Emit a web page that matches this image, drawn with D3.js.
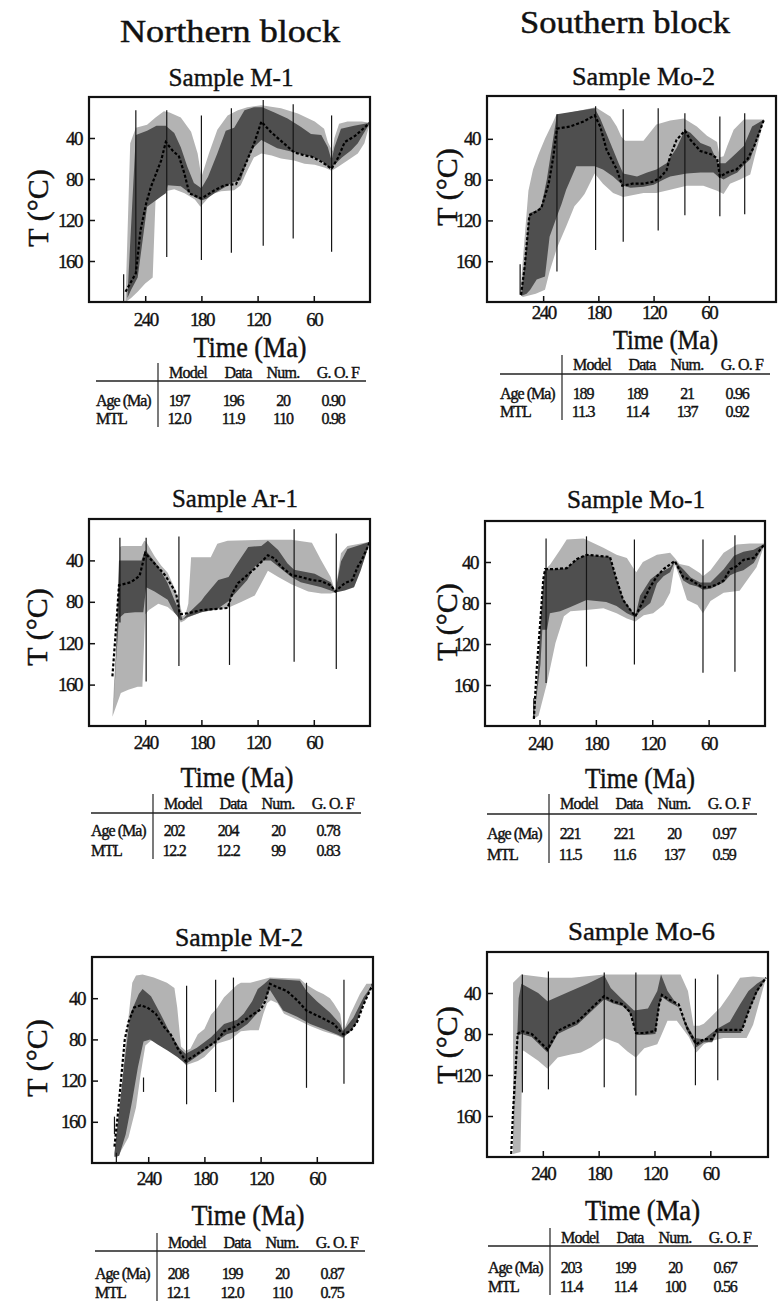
<!DOCTYPE html>
<html><head><meta charset="utf-8">
<script src="https://cdn.jsdelivr.net/npm/d3@7"></script>
<style>
body{margin:0;background:#fff}
svg{display:block}
text{font-family:"Liberation Serif","Times New Roman",serif;fill:#111}
</style>
</head><body>
<svg id="c" width="780" height="1301"></svg>
<script>
// ---------- DATA: [time Ma, temperature °C] ----------
const xTickValues=[240,180,120,60];
const yTickValues=[40,80,120,160];
const tableHeaders=["Model","Data","Num.","G. O. F"];
const rowLabels=["Age (Ma)","MTL"];
const blockTitles=["Northern block","Southern block"];
const sampleNames=["Sample M-1","Sample Mo-2","Sample Ar-1","Sample Mo-1","Sample M-2","Sample Mo-6"];

// Sample M-1
const m1LightUpper=[[261,198],[256,45],[250,30],[238,27],[229,20],[220,14],[214,15],[202,20],[191,34],[184,55],[180,78],[172,55],[163,32],[152,18],[141,13],[131,10],[116,8],[95,11],[77,16],[59,24],[49,31],[45,44],[40,53],[38,40],[33,26],[24,24],[9,24],[0,25]];
const m1LightLower=[[261,200],[255,196],[248,190],[240,182],[232,176],[229,101],[218,92],[209,90],[198,94],[187,100],[181,107],[176,102],[170,95],[159,92],[145,91],[138,86],[131,72],[124,59],[116,55],[105,57],[95,60],[81,62],[70,65],[59,66],[48,69],[41,72],[34,68],[24,62],[13,55],[6,45],[0,25]];
const m1DarkUpper=[[259,195],[250,37],[238,33],[228,28],[218,28],[209,35],[202,49],[195,68],[188,84],[180,89],[173,78],[163,55],[154,33],[145,30],[134,13],[124,10],[115,10],[102,15],[88,21],[74,29],[63,36],[52,37],[45,49],[41,62],[38,49],[31,31],[17,28],[0,25]];
const m1DarkLower=[[259,196],[255,188],[248,176],[238,107],[223,97],[218,94],[216,86],[202,87],[195,92],[188,97],[180,101],[174,99],[166,94],[155,88],[148,84],[138,81],[131,62],[124,49],[116,42],[99,50],[81,54],[63,58],[52,62],[43,70],[38,66],[30,59],[20,52],[13,45],[0,25]];
const m1Best=[[261,190],[250,172],[245,130],[239,104],[234,88],[223,62],[218,44],[211,52],[204,58],[198,75],[193,94],[180,99],[166,91],[155,86],[143,85],[134,68],[124,46],[116,24],[106,34],[91,46],[81,54],[70,57],[63,58],[52,63],[41,70],[34,59],[27,44],[16,38],[0,25]];
const m1Constraints=[[263,173,200],[250,13,172],[217,13,156],[180,18,159],[148,11,152],[114,3,145],[82,7,138],[41,18,151]];
const m1AgeRow=["197","196","20","0.90"];
const m1MtlRow=["12.0","11.9","110","0.98"];

// Sample Mo-2
const mo2LightUpper=[[265,192],[256,91],[251,70],[245,55],[238,40],[230,25],[226,17],[183,9],[167,18],[160,28],[155,38],[151,42],[131,42],[117,26],[102,22],[87,20],[73,28],[62,37],[51,43],[48,58],[44,57],[40,47],[33,31],[22,21],[0,21]];
const mo2LightLower=[[265,193],[262,195],[248,192],[238,188],[233,170],[225,147],[215,126],[206,106],[200,100],[195,94],[190,85],[184,74],[175,84],[164,93],[153,97],[142,95],[131,93],[117,93],[102,90],[84,86],[66,86],[51,91],[44,94],[37,84],[26,80],[15,75],[0,21]];
const mo2DarkUpper=[[264,194],[260,160],[255,113],[247,110],[242,106],[236,80],[230,45],[225,16],[184,10],[178,20],[167,44],[158,64],[153,74],[138,77],[127,73],[117,70],[106,64],[95,49],[86,31],[80,34],[69,44],[58,48],[50,64],[42,64],[30,54],[22,47],[13,28],[0,21]];
const mo2DarkLower=[[264,194],[258,192],[254,188],[247,178],[238,175],[233,136],[225,116],[220,104],[215,90],[204,67],[184,67],[175,70],[164,77],[153,86],[145,88],[131,87],[120,85],[109,80],[102,77],[84,74],[69,73],[55,73],[50,77],[44,80],[36,76],[29,73],[22,66],[15,60],[0,21]];
const mo2Best=[[264,193],[260,165],[255,115],[247,111],[242,108],[234,84],[229,58],[225,30],[211,28],[196,23],[184,17],[178,28],[171,51],[160,70],[154,86],[143,84],[131,84],[120,82],[113,78],[106,71],[102,57],[95,41],[86,32],[80,41],[69,52],[58,55],[51,59],[48,77],[40,73],[30,70],[18,60],[11,48],[0,21]];
const mo2Constraints=[[265,163,193],[225,16,170],[183,8,149],[153,11,141],[115,10,130],[86,15,115],[48,18,116],[21,15,114]];
const mo2AgeRow=["189","189","21","0.96"];
const mo2MtlRow=["11.3","11.4","137","0.92"];

// Sample Ar-1
const ar1LightUpper=[[275,191],[270,100],[267,27],[265,26],[251,26],[244,26],[241,21],[239,22],[230,36],[223,45],[216,52],[209,66],[203,82],[200,94],[197,92],[194,82],[191,37],[170,37],[163,24],[152,21],[109,20],[84,20],[62,23],[52,40],[42,56],[37,70],[31,33],[24,26],[0,22]];
const ar1LightLower=[[275,191],[266,168],[258,165],[248,162],[243,162],[240,92],[236,88],[226,82],[216,85],[206,93],[202,100],[198,98],[194,95],[180,90],[166,88],[152,86],[137,80],[123,74],[116,62],[109,50],[98,56],[84,63],[66,70],[52,72],[42,72],[37,71],[27,68],[17,64],[10,48],[0,22]];
const ar1DarkUpper=[[274,185],[271,130],[268,40],[258,40],[244,40],[240,30],[237,33],[226,46],[216,62],[209,78],[203,90],[200,97],[194,91],[180,79],[177,75],[162,59],[151,56],[144,46],[130,27],[116,26],[109,21],[98,30],[88,43],[81,49],[59,53],[42,61],[37,70],[31,41],[24,29],[0,22]];
const ar1DarkLower=[[274,185],[271,135],[268,96],[262,91],[251,90],[242,90],[239,66],[230,70],[216,78],[209,90],[202,98],[195,95],[180,90],[163,87],[152,80],[145,73],[138,66],[131,59],[123,46],[113,40],[106,40],[98,46],[84,56],[74,61],[52,66],[42,69],[37,71],[27,69],[17,66],[10,50],[0,22]];
const ar1Best=[[275,152],[271,104],[268,64],[255,61],[246,55],[240,33],[230,43],[219,54],[212,64],[207,72],[203,92],[194,91],[180,88],[166,87],[152,86],[147,72],[141,62],[132,55],[123,48],[109,35],[102,38],[95,46],[84,54],[74,56],[62,59],[52,60],[42,64],[37,70],[27,62],[19,59],[13,46],[9,40],[0,22]];
const ar1Constraints=[[267,18,100],[239,18,157],[204,17,142],[150,78,141],[81,10,138],[36,14,145]];
const ar1AgeRow=["202","204","20","0.78"];
const ar1MtlRow=["12.2","12.2","99","0.83"];

// Sample Mo-1
const mo1LightUpper=[[246,193],[241,150],[237,90],[235,48],[229,43],[218,28],[211,18],[193,17],[172,26],[158,33],[147,36],[140,46],[137,50],[130,40],[115,33],[101,31],[96,36],[91,42],[81,44],[69,51],[66,54],[58,48],[44,31],[30,23],[16,22],[0,22]];
const mo1LightLower=[[246,193],[241,190],[232,158],[223,119],[214,93],[207,88],[193,87],[172,85],[158,90],[147,95],[138,98],[129,92],[119,90],[108,82],[101,70],[96,42],[90,57],[83,77],[72,82],[66,90],[58,78],[44,70],[27,68],[16,54],[9,45],[0,22]];
const mo1DarkUpper=[[246,193],[242,150],[239,99],[236,60],[234,47],[225,47],[211,46],[200,37],[190,33],[165,35],[158,57],[151,76],[143,86],[138,93],[133,73],[122,57],[115,52],[101,45],[96,39],[87,47],[79,55],[69,60],[58,60],[44,47],[33,34],[23,30],[12,28],[0,22]];
const mo1DarkLower=[[246,193],[243,170],[239,140],[237,106],[232,106],[229,90],[218,88],[207,84],[190,77],[169,79],[158,83],[147,90],[138,94],[133,88],[122,80],[115,61],[108,54],[101,50],[96,40],[87,58],[80,62],[72,64],[66,67],[58,66],[51,63],[44,60],[37,53],[30,50],[23,48],[12,41],[0,22]];
const mo1Best=[[246,193],[243,145],[239,96],[236,57],[234,47],[225,47],[211,46],[200,37],[190,33],[165,35],[158,57],[151,77],[144,86],[138,93],[129,77],[122,64],[115,54],[108,47],[96,39],[87,55],[80,57],[66,65],[58,64],[51,62],[44,58],[37,47],[30,44],[23,38],[12,36],[0,22]];
const mo1Constraints=[[246,173,193],[233,17,158],[190,15,142],[139,18,140],[66,18,148],[32,14,147]];
const mo1AgeRow=["221","221","20","0.97"];
const mo1MtlRow=["11.5","11.6","137","0.59"];

// Sample M-2
const m2LightUpper=[[276,192],[270,150],[265,90],[260,50],[257,25],[253,18],[246,17],[234,20],[220,25],[212,30],[209,49],[205,87],[200,91],[195,89],[187,75],[180,70],[173,56],[166,49],[159,39],[152,33],[145,27],[141,25],[131,25],[127,24],[110,20],[78,21],[71,27],[60,33],[53,36],[46,40],[42,45],[35,55],[32,73],[24,55],[14,36],[7,26],[0,26]];
const m2LightLower=[[276,194],[273,195],[261,175],[253,146],[248,113],[243,86],[237,81],[230,83],[219,86],[209,93],[200,105],[187,101],[180,97],[166,84],[152,80],[141,72],[131,71],[122,71],[117,55],[113,45],[109,42],[102,45],[95,55],[81,61],[67,67],[53,72],[39,76],[32,79],[21,69],[10,46],[0,26]];
const m2DarkUpper=[[276,190],[266,107],[259,55],[250,36],[246,31],[237,38],[227,55],[216,75],[206,89],[200,94],[188,88],[173,78],[159,65],[145,61],[138,55],[129,43],[123,31],[116,26],[110,21],[78,23],[71,33],[60,43],[46,54],[35,65],[32,72],[21,59],[10,39],[0,26]];
const m2DarkLower=[[276,194],[271,193],[264,172],[257,139],[251,107],[245,82],[238,80],[230,85],[219,91],[209,97],[200,104],[195,101],[181,92],[166,81],[156,75],[145,72],[134,65],[124,55],[116,42],[110,32],[103,42],[96,52],[81,58],[67,65],[53,70],[39,75],[32,78],[24,72],[17,63],[10,45],[0,26]];
const m2Best=[[276,184],[273,158],[265,80],[261,63],[255,49],[248,47],[241,49],[232,55],[223,68],[216,75],[209,88],[200,101],[191,96],[181,90],[166,81],[159,72],[148,68],[138,62],[127,55],[120,51],[115,43],[110,26],[103,29],[92,33],[81,42],[71,52],[57,58],[42,65],[32,75],[24,72],[17,63],[10,46],[0,26]];
const m2Constraints=[[276,155,172],[274,190,200],[245,117,131],[199,28,143],[168,22,131],[149,20,141],[71,25,127],[31,22,123]];
const m2AgeRow=["208","199","20","0.87"];
const m2MtlRow=["12.1","12.0","110","0.75"];

// Sample Mo-6
const mo6LightUpper=[[272,194],[272,30],[263,22],[235,25],[209,25],[174,22],[163,22],[142,22],[114,22],[92,22],[84,38],[78,72],[72,72],[67,70],[60,64],[49,54],[39,41],[28,25],[14,24],[0,25]];
const mo6LightLower=[[272,197],[264,195],[262,100],[261,96],[245,106],[235,114],[224,103],[210,100],[199,98],[188,93],[174,84],[159,89],[149,97],[140,103],[131,94],[117,90],[113,82],[106,67],[96,67],[83,83],[75,98],[67,90],[60,87],[46,84],[31,84],[21,84],[14,71],[0,25]];
const mo6DarkUpper=[[272,195],[266,45],[263,31],[245,40],[235,48],[210,38],[192,31],[174,23],[167,35],[156,45],[142,57],[127,55],[117,38],[113,22],[106,38],[96,51],[85,71],[77,84],[67,85],[53,75],[39,68],[28,51],[19,38],[10,31],[0,25]];
const mo6DarkLower=[[272,196],[267,82],[263,80],[252,83],[235,98],[224,80],[213,75],[203,71],[188,58],[174,46],[165,50],[154,53],[145,61],[140,81],[131,81],[119,80],[115,53],[112,44],[104,49],[94,54],[85,77],[75,93],[67,88],[58,88],[53,79],[39,79],[27,79],[20,61],[10,40],[0,25]];
const mo6Best=[[274,197],[272,155],[267,80],[263,77],[252,80],[235,95],[224,77],[213,72],[203,68],[188,55],[174,43],[165,48],[154,51],[146,59],[140,79],[130,79],[119,77],[115,51],[112,42],[105,46],[94,51],[85,74],[75,90],[67,85],[58,85],[53,76],[39,76],[26,76],[19,58],[10,38],[0,25]];
const mo6Constraints=[[262,22,137],[234,19,134],[174,20,132],[140,20,140],[76,26,130],[52,22,125]];
const mo6AgeRow=["203","199","20","0.67"];
const mo6MtlRow=["11.4","11.4","100","0.56"];

// ---------- LAYOUT ----------
const LIGHT="#b3b3b3", DARK="#4f4f4f";
const panels=[
 {name:sampleNames[0],lu:m1LightUpper,ll:m1LightLower,du:m1DarkUpper,dl:m1DarkLower,best:m1Best,cons:m1Constraints,age:m1AgeRow,mtl:m1MtlRow,
  L:{x0:89,x1:370,y0:97,y1:302,xd:[300,0],yd:[0,200],title:[231,86,125],ylab:[38,208],time:[250,357,113,29],tickBase:326,tb:{vx:158,head:378,rule:381,age:406,mtl:424}}},
 {name:sampleNames[1],lu:mo2LightUpper,ll:mo2LightLower,du:mo2DarkUpper,dl:mo2DarkLower,best:mo2Best,cons:mo2Constraints,age:mo2AgeRow,mtl:mo2MtlRow,
  L:{x0:487,x1:776,y0:96,y1:302,xd:[301,-13],yd:[-2,200],title:[643.5,85,143],ylab:[447,187],time:[665.5,349,105,27],tickBase:319,tb:{vx:562,head:370,rule:374,age:399,mtl:417}}},
 {name:sampleNames[2],lu:ar1LightUpper,ll:ar1LightLower,du:ar1DarkUpper,dl:ar1DarkLower,best:ar1Best,cons:ar1Constraints,age:ar1AgeRow,mtl:ar1MtlRow,
  L:{x0:89,x1:370,y0:519,y1:726,xd:[300,0],yd:[0,200],title:[235,507,126],ylab:[37,627],time:[237,787,113,29],tickBase:749,tb:{vx:153,head:809,rule:813,age:836,mtl:856}}},
 {name:sampleNames[3],lu:mo1LightUpper,ll:mo1LightLower,du:mo1DarkUpper,dl:mo1DarkLower,best:mo1Best,cons:mo1Constraints,age:mo1AgeRow,mtl:mo1MtlRow,
  L:{x0:485,x1:765,y0:521,y1:726,xd:[298,0],yd:[0,200],title:[636,508,138],ylab:[447,622],time:[640,788,110,29],tickBase:750,tb:{vx:549,head:809,rule:814,age:839,mtl:860}}},
 {name:sampleNames[4],lu:m2LightUpper,ll:m2LightLower,du:m2DarkUpper,dl:m2DarkLower,best:m2Best,cons:m2Constraints,age:m2AgeRow,mtl:m2MtlRow,
  L:{x0:92,x1:373,y0:957,y1:1163,xd:[300,0],yd:[0,200],title:[239,946,128],ylab:[37,1058],time:[248,1225,113,29],tickBase:1185,tb:{vx:157,head:1248,rule:1251,age:1279,mtl:1298}}},
 {name:sampleNames[5],lu:mo6LightUpper,ll:mo6LightLower,du:mo6DarkUpper,dl:mo6DarkLower,best:mo6Best,cons:mo6Constraints,age:mo6AgeRow,mtl:mo6MtlRow,
  L:{x0:487,x1:768,y0:952,y1:1157,xd:[300,-2],yd:[0,200],title:[641.5,940,147],ylab:[447,1045],time:[642.5,1220,115,29],tickBase:1180,tb:{vx:550,head:1243,rule:1246,age:1273,mtl:1292}}}
];

const svg=d3.select("#c");

// block titles
[[230,42,220],[625,33,210]].forEach((p,i)=>{
  svg.append("text").attr("x",p[0]).attr("y",p[1]).attr("text-anchor","middle")
    .attr("font-size",31).attr("textLength",p[2]).attr("lengthAdjust","spacingAndGlyphs")
    .attr("stroke","#111").attr("stroke-width",0.45).text(blockTitles[i]);
});

const headOff=[30,80,125,180], valOff=[21,75,125,175];

panels.forEach(p=>{
  const L=p.L;
  const x=d3.scaleLinear().domain(L.xd).range([L.x0,L.x1]);
  const y=d3.scaleLinear().domain(L.yd).range([L.y0,L.y1]);
  const g=svg.append("g");
  const line=d3.line().x(d=>x(d[0])).y(d=>y(d[1]));
  const poly=(u,l)=>line(u.concat(l.slice().reverse()))+"Z";
  g.append("path").attr("d",poly(p.lu,p.ll)).attr("fill",LIGHT);
  g.append("path").attr("d",poly(p.du,p.dl)).attr("fill",DARK);
  g.selectAll("line.cons").data(p.cons).join("line").attr("class","cons")
    .attr("x1",d=>x(d[0])).attr("x2",d=>x(d[0])).attr("y1",d=>y(d[1])).attr("y2",d=>y(d[2]))
    .attr("stroke","#151515").attr("stroke-width",1.2);
  g.append("path").attr("d",line(p.best)).attr("fill","none").attr("stroke","#000")
    .attr("stroke-width",2.2).attr("stroke-dasharray","3,2");

  // axes (inward ticks)
  const fs=19;
  const xa=g.append("g").attr("transform",`translate(0,${L.y1})`)
    .call(d3.axisBottom(x).tickValues(xTickValues).tickSize(-6).tickPadding(L.tickBase-L.y1-0.71*fs));
  const ya=g.append("g").attr("transform",`translate(${L.x0},0)`)
    .call(d3.axisLeft(y).tickValues(yTickValues).tickSize(-6).tickPadding(7));
  [xa,ya].forEach(a=>{
    a.select(".domain").remove();
    a.attr("font-family",null).attr("font-size",null);
    a.selectAll("line").attr("stroke","#111").attr("stroke-width",1.5);
    a.selectAll("text").attr("font-size",fs).attr("letter-spacing",-1.5).attr("fill","#111")
      .attr("stroke","#111").attr("stroke-width",0.35);
  });
  // frame
  g.append("rect").attr("x",L.x0).attr("y",L.y0).attr("width",L.x1-L.x0).attr("height",L.y1-L.y0)
    .attr("fill","none").attr("stroke","#111").attr("stroke-width",2.2);

  // title
  g.append("text").attr("x",L.title[0]).attr("y",L.title[1]).attr("text-anchor","middle")
    .attr("font-size",26).attr("textLength",L.title[2]).attr("lengthAdjust","spacingAndGlyphs")
    .attr("stroke","#111").attr("stroke-width",0.4).text(p.name);
  // y label
  g.append("text").attr("transform",`translate(${L.ylab[0]+10},${L.ylab[1]}) rotate(-90)`)
    .attr("text-anchor","middle").attr("font-size",30).attr("stroke","#111").attr("stroke-width",0.45)
    .text("T (°C)");
  // time label
  g.append("text").attr("x",L.time[0]).attr("y",L.time[1]).attr("text-anchor","middle")
    .attr("font-size",L.time[3]).attr("textLength",L.time[2]).attr("lengthAdjust","spacingAndGlyphs")
    .attr("stroke","#111").attr("stroke-width",0.45).text("Time (Ma)");

  // table
  const t=L.tb;
  g.append("line").attr("x1",t.vx).attr("x2",t.vx).attr("y1",t.head-15).attr("y2",t.mtl+3)
    .attr("stroke","#222").attr("stroke-width",1.2);
  g.append("line").attr("x1",t.vx-62).attr("x2",t.vx+208).attr("y1",t.rule).attr("y2",t.rule)
    .attr("stroke","#222").attr("stroke-width",1.4);
  tableHeaders.forEach((h,i)=>{
    g.append("text").attr("x",t.vx+headOff[i]).attr("y",t.head).attr("text-anchor","middle")
      .attr("font-size",16).attr("letter-spacing",-0.8).attr("stroke","#111").attr("stroke-width",0.4).text(h);
  });
  [[rowLabels[0],p.age,t.age],[rowLabels[1],p.mtl,t.mtl]].forEach(r=>{
    g.append("text").attr("x",t.vx-62).attr("y",r[2]).attr("font-size",16).attr("letter-spacing",-1)
      .attr("stroke","#111").attr("stroke-width",0.4).text(r[0]);
    r[1].forEach((v,i)=>{
      g.append("text").attr("x",t.vx+valOff[i]).attr("y",r[2]).attr("text-anchor","middle")
        .attr("font-size",16).attr("letter-spacing",-1.2).attr("stroke","#111").attr("stroke-width",0.4).text(v);
    });
  });
});
</script>
</body></html>
